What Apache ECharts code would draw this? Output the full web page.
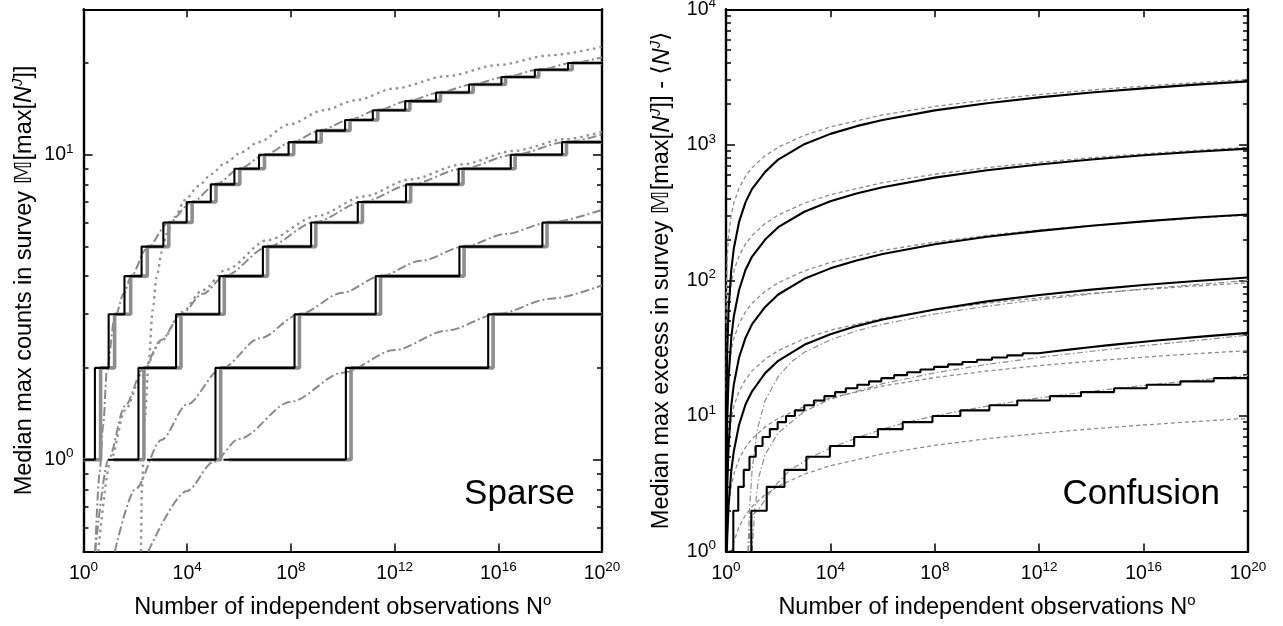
<!DOCTYPE html>
<html>
<head>
<meta charset="utf-8">
<script src="https://cdn.jsdelivr.net/npm/echarts@6/dist/echarts.min.js"></script>
<style>
  html, body { margin: 0; padding: 0; background: #fff; }
  #chart { width: 1283px; height: 626px; }
</style>
</head>
<body>
<div id="chart"></div>
<script>
// x values below are log10(N°)
const xTickExps = [0, 4, 8, 12, 16, 20]
const sparseMajor = [1, 10]
const sparseMinor = [0.6, 0.7, 0.8, 0.9, 2, 3, 4, 5, 6, 7, 8, 9, 20]
const confMajor = [1, 10, 100, 1000, 10000]
const confMinor = [2, 3, 4, 5, 6, 7, 8, 9, 20, 30, 40, 50, 60, 70, 80, 90,
  200, 300, 400, 500, 600, 700, 800, 900, 2000, 3000, 4000, 5000, 6000, 7000, 8000, 9000]

// Sparse panel: staircases (x where the median max climbs to the level in *_y)
const blackA_x = [0, 0.44, 0.97, 1.58, 2.24, 3.08, 3.98, 4.91, 5.82, 6.77, 7.91, 8.98, 10.09, 11.16, 12.41, 13.60, 14.87, 16.12, 17.41, 18.69]
const greyA_x = [0, 0.66, 1.20, 1.82, 2.46, 3.29, 4.19, 5.11, 6.03, 6.98, 8.11, 9.17, 10.28, 11.35, 12.59, 13.77, 15.03, 16.28, 17.56, 18.85]
const stairA_y = [1, 2, 3, 4, 5, 6, 7, 8, 9, 10, 11, 12, 13, 14, 15, 16, 17, 18, 19, 20]
const blackB_x = [0.95, 2.12, 3.57, 5.24, 6.92, 8.78, 10.58, 12.44, 14.47, 16.48, 18.46]
const greyB_x = [1.15, 2.33, 3.76, 5.43, 7.10, 8.96, 10.76, 12.62, 14.64, 16.65, 18.63]
const stairB_y = [1, 2, 3, 4, 5, 6, 7, 8, 9, 10, 11]
const blackC_x = [2.45, 5.09, 8.14, 11.27, 14.50, 17.70]
const greyC_x = [2.65, 5.29, 8.33, 11.46, 14.68, 17.88]
const stairC_y = [1, 2, 3, 4, 5, 6]
const blackD_x = [5.40, 10.12, 15.61]
const greyD_x = [5.60, 10.32, 15.80]
const stairD_y = [1, 2, 3]

// Sparse panel: smooth approximations
const dashDotA_x = [0.45, 0.62, 0.76, 0.9, 1.2, 1.55, 1.84, 2.42, 3.29, 4.19, 5.11, 6.02, 6.98, 8.03, 9.12, 10.22, 11.33, 12.5, 13.73, 14.98, 16.26, 17.55, 18.86, 20]
const dashDotA_y = [0.5, 0.9, 1.3, 1.95, 2.9, 3.5, 4.0, 4.9, 6.0, 7.0, 8.0, 9.0, 10.0, 11.0, 12.0, 13.0, 14.0, 15.0, 16.0, 17.0, 18.0, 19.0, 20.0, 20.9]
const dashDotB_x = [0.45, 0.96, 1.6, 2.32, 3.0, 3.77, 4.6, 5.44, 7.12, 8.9, 10.75, 12.65, 14.6, 16.6, 18.6, 20]
const dashDotB_y = [0.5, 1.0, 1.5, 2.0, 2.47, 3.0, 3.5, 4.0, 5.0, 6.0, 7.0, 8.0, 9.0, 10.0, 11.0, 11.65]
const dashDotC_x = [1.21, 2.0, 3.0, 4.0, 5.29, 6.8, 8.33, 10.0, 11.46, 13.0, 14.68, 16.3, 17.88, 20]
const dashDotC_y = [0.5, 0.8, 1.16, 1.52, 1.98, 2.5, 3.0, 3.53, 4.0, 4.49, 5.0, 5.5, 5.98, 6.6]
const dashDotD_x = [2.5, 4, 5, 6, 8, 10, 12, 14, 16, 18, 20]
const dashDotD_y = [0.5, 0.79, 0.98, 1.17, 1.55, 1.93, 2.29, 2.65, 3.01, 3.37, 3.73]
const dottedA_x = [2.22, 2.25, 2.37, 2.5, 2.67, 2.82, 3.02, 3.21, 3.53, 3.91, 4.43, 4.94, 5.46, 6.1, 6.74, 7.96, 9.25, 10.5, 12, 14, 16, 18, 20]
const dottedA_y = [0.5, 0.8, 1.38, 2.0, 3.1, 3.97, 4.8, 5.5, 6.25, 7.1, 7.9, 8.65, 9.4, 10.2, 11.0, 12.6, 14.0, 15.1, 16.5, 18.1, 19.7, 21.2, 22.6]
const dottedB_x = [0.57, 1.05, 1.6, 2.3, 3.0, 3.8, 4.6, 5.5, 7.1, 9.0, 10.8, 12.6, 14.6, 16.6, 18.6, 20]
const dottedB_y = [0.5, 1.0, 1.45, 1.95, 2.45, 3.05, 3.6, 4.2, 5.25, 6.3, 7.3, 8.3, 9.3, 10.3, 11.25, 11.9]

// Confusion panel: black curves
const conf1_x = [0.002, 0.005, 0.01, 0.02, 0.05, 0.1, 0.2, 0.3, 0.5, 0.75, 1, 1.5, 2, 3, 4, 5, 6, 8, 10, 12, 14, 16, 18, 20]
const conf1_y = [1.26, 3.2, 6.3, 12.8, 31, 61, 118, 172, 270, 378, 474, 632, 779, 1011, 1205, 1374, 1527, 1796, 2030, 2239, 2432, 2612, 2781, 2941]
const conf2_x = [0.005, 0.01, 0.02, 0.05, 0.1, 0.2, 0.3, 0.5, 0.75, 1, 1.5, 2, 3, 4, 5, 6, 8, 10, 12, 14, 16, 18, 20]
const conf2_y = [1.0, 2.0, 4.0, 9.8, 19.3, 37.3, 54.4, 85, 120, 150, 200, 247, 321, 383, 438, 487, 573, 649, 716, 779, 837, 890, 938]
const conf3_x = [0.02, 0.05, 0.1, 0.2, 0.3, 0.5, 0.75, 1, 1.5, 2, 3, 4, 5, 6, 8, 10, 12, 14, 16, 18, 20]
const conf3_y = [1.28, 3.1, 6.1, 11.8, 17.1, 27, 37.8, 47.6, 63.7, 78.7, 102.7, 122.7, 140.4, 156.4, 184.8, 209.7, 232, 252.9, 272.4, 290.8, 306]
const conf4_x = [0.03, 0.05, 0.1, 0.2, 0.3, 0.5, 0.75, 1, 1.5, 2, 3, 4, 5, 6, 8, 10, 12, 14, 16, 18, 20]
const conf4_y = [1.0, 1.3, 2.2, 3.9, 5.5, 8.6, 12.2, 15.2, 20.7, 25.5, 33.5, 40, 46, 51.5, 61, 70, 78, 85.5, 92.5, 99, 105]
const conf5_x = [0.11, 0.28, 0.47, 0.68, 0.90, 1.14, 1.40, 1.68, 1.98, 2.30, 2.64, 3.00, 3.37, 3.77, 4.18, 4.59, 5.03, 5.48, 5.95, 6.44,
  6.94, 7.45, 7.97, 8.51, 9.06, 9.62, 10.19, 10.77, 11.37, 11.97, 12.59, 13.22, 13.85, 14.50, 15.16, 15.82, 16.50, 17.18, 17.87, 18.57, 19.28]
const conf5_y = [1, 2, 3, 4, 5, 6, 7, 8, 9, 10, 11, 12, 13, 14, 15, 16, 17, 18, 19, 20,
  21, 22, 23, 24, 25, 26, 27, 28, 29, 30, 31, 32, 33, 34, 35, 36, 37, 38, 39, 40, 41]
const conf6_x = [0.97, 0.97, 1.56, 2.24, 3.08, 3.98, 4.91, 5.82, 6.77, 7.91, 8.98, 10.09, 11.16, 12.41, 13.60, 14.87, 16.12, 17.41, 18.69]
const conf6_y = [1, 2, 3, 4, 5, 6, 7, 8, 9, 10, 11, 12, 13, 14, 15, 16, 17, 18, 19]

// Confusion panel: grey dashed curves
const dashX = [0.005, 0.01, 0.02, 0.05, 0.1, 0.2, 0.3, 0.5, 0.75, 1, 1.5, 2, 3, 4, 6, 8, 10, 12, 14, 16, 18, 20]
const dash1_y = [48, 67.9, 96, 151.7, 214.6, 303.5, 371.7, 479.8, 587.7, 678.6, 831, 959.7, 1175, 1357, 1662, 1919, 2146, 2351, 2539, 2714, 2879, 3035]
const dash2_y = [15.2, 21.5, 30.3, 48, 67.9, 96, 117.5, 151.7, 185.8, 214.6, 262.8, 303.5, 371.7, 429.2, 525.7, 607, 678.6, 743.4, 803, 858.4, 910.5, 959.7]
const dash3_y = [4.8, 6.8, 9.6, 15.2, 21.5, 30.3, 37.2, 48, 58.8, 67.9, 83.1, 96, 117.5, 135.7, 166.2, 191.9, 214.6, 235.1, 253.9, 271.4, 287.9, 303.5]
const dash4_y = [1.5, 2.15, 3.03, 4.8, 6.8, 9.6, 11.8, 15.2, 18.6, 21.5, 26.3, 30.3, 37.2, 42.9, 52.6, 60.7, 67.9, 74.3, 80.3, 85.8, 91.0, 96.0]
const dash5_x = [0.022, 0.05, 0.1, 0.2, 0.3, 0.5, 0.75, 1, 1.5, 2, 3, 4, 6, 8, 10, 12, 14, 16, 18, 20]
const dash5_y = [1.0, 1.52, 2.15, 3.03, 3.72, 4.8, 5.88, 6.79, 8.31, 9.6, 11.75, 13.57, 16.62, 19.19, 21.46, 23.51, 25.39, 27.14, 28.79, 30.35]
const dash6_x = [0.22, 0.3, 0.5, 0.75, 1, 1.5, 2, 3, 4, 6, 8, 10, 12, 14, 16, 18, 20]
const dash6_y = [1.0, 1.18, 1.52, 1.86, 2.15, 2.63, 3.03, 3.72, 4.29, 5.26, 6.07, 6.79, 7.43, 8.03, 8.58, 9.10, 9.60]

// Confusion panel: grey dash-dot curves
const confDD4_x = [0.84, 0.9, 1.0, 1.2, 1.5, 2.0, 2.5, 3.0, 4.0, 5, 6, 8, 10, 12, 14, 16, 18, 20]
const confDD4_y = [1.0, 2.0, 4.0, 8.0, 13.0, 19.5, 25, 29.5, 36.5, 42.5, 47.5, 56.5, 64.5, 72, 79.5, 86.5, 93, 100]
const confDD5_x = [1.0, 1.1, 1.25, 1.5, 2.0, 3, 4, 6, 8, 10, 12, 14, 16, 18, 20]
const confDD5_y = [1.0, 2.0, 3.5, 5.2, 7.5, 10.8, 13.3, 17.3, 20.8, 24, 27, 30, 33, 36, 39.5]
const confDD6_x = [0.86, 0.92, 1.0, 1.21, 1.84, 2.46, 3.29, 4.19, 5.11, 6.0, 6.95, 7.98, 9.1, 10.2, 11.3, 12.5, 13.75, 15.0, 16.3, 17.6, 18.85, 20]
const confDD6_y = [1.0, 1.5, 1.85, 2.0, 3.0, 4.0, 5.0, 6.0, 7.0, 8.0, 9.0, 10.0, 11, 12, 13, 14, 15, 16, 17, 18, 19, 19.9]

const font = 'Liberation Sans, Arial, DejaVu Sans, sans-serif'
const xTicks = xTickExps.map(e => Math.pow(10, e))

const pts = (xs, ys) => xs.map((e, i) => [Math.pow(10, e), ys[i]])
const stair = (xs, ys) => pts(xs, ys).concat([[1e20, ys[ys.length - 1]]])

const BLACK = { color: '#000', width: 2.1 }
const GREY_STEP = { color: '#8e8e8e', width: 3.6 }
const DASH_DOT = { color: '#8a8a8a', width: 2, type: [9, 3, 2, 3] }
const DOTTED = { color: '#949494', width: 2.4, type: [2.5, 4] }
const DASHED = { color: '#8c8c8c', width: 1.3, type: [4, 3] }
const THIN_DD = { color: '#8c8c8c', width: 1.2, type: [6, 2.5, 1.5, 2.5] }

const line = (data, right, style, extra) => Object.assign({
  type: 'line',
  data,
  xAxisIndex: right ? 2 : 0,
  yAxisIndex: right ? 4 : 0,
  symbol: 'none',
  showSymbol: false,
  silent: true,
  lineStyle: style
}, extra)
const smooth = { smooth: 0.3, smoothMonotone: 'x' }
const plain = { smooth: false }
const step = { step: 'end' }

const supRich = {
  b: { fontSize: 19.5, fontFamily: font, color: '#000' },
  s: { fontSize: 13.5, fontFamily: font, color: '#000', padding: [0, 0, 12, 0] }
}
const powLabel = v => '{b|10}{s|' + Math.round(Math.log10(v)) + '}'

const nameStyle = {
  fontSize: 23.5,
  fontFamily: font,
  color: '#000',
  rich: {
    i: { fontSize: 23.5, fontFamily: font, fontStyle: 'italic', color: '#000' },
    s: { fontSize: 15, fontFamily: font, fontStyle: 'italic', color: '#000', padding: [0, 0, 13, 0] },
    o: { fontSize: 15, fontFamily: font, color: '#000', padding: [0, 0, 13, 0] }
  }
}

function xAxis (gridIndex, position, withLabel) {
  return {
    type: 'log',
    logBase: 10,
    gridIndex,
    position,
    min: 1,
    max: 1e20,
    axisLine: { show: true, onZero: false, lineStyle: { color: '#000', width: 2.2 } },
    axisTick: { show: true, inside: true, length: 8, customValues: xTicks, lineStyle: { color: '#000', width: 1.5 } },
    axisLabel: { show: withLabel, customValues: xTicks, formatter: powLabel, margin: 9, rich: supRich },
    splitLine: { show: false },
    minorTick: { show: false },
    name: withLabel ? 'Number of independent observations N{o|o}' : '',
    nameLocation: 'middle',
    nameGap: 42,
    nameTextStyle: nameStyle
  }
}

function yAxis (gridIndex, position, min, max, ticks, len, labelled, name, gap) {
  return {
    type: 'log',
    logBase: 10,
    gridIndex,
    position,
    min,
    max,
    axisLine: { show: true, onZero: false, lineStyle: { color: '#000', width: 2.2 } },
    axisTick: { show: true, inside: true, length: len, customValues: ticks, lineStyle: { color: '#000', width: 1.5 } },
    axisLabel: { show: labelled, customValues: ticks, formatter: powLabel, margin: 10, rich: supRich },
    splitLine: { show: false },
    minorTick: { show: false },
    name: name || '',
    nameLocation: 'middle',
    nameGap: gap || 0,
    nameTextStyle: nameStyle
  }
}

const sparseName = 'Median max counts in survey \u{1D544}[max[{i|N}{s|J}]]'
const confName = 'Median max excess in survey \u{1D544}[max[{i|N}{s|J}]] - \u27E8{i|N}{s|J}\u27E9'

const option = {
  animation: false,
  backgroundColor: '#fff',
  textStyle: { fontFamily: font },
  grid: [
    { left: 83.5, right: 681, top: 9.3, bottom: 74.5, outerBoundsMode: 'none' },
    { left: 726, right: 35, top: 9.3, bottom: 74.5, outerBoundsMode: 'none' }
  ],
  xAxis: [
    xAxis(0, 'bottom', true),
    xAxis(0, 'top', false),
    xAxis(1, 'bottom', true),
    xAxis(1, 'top', false)
  ],
  yAxis: [
    yAxis(0, 'left', 0.5, 30, sparseMajor, 9, true, sparseName, 45),
    yAxis(0, 'left', 0.5, 30, sparseMinor, 5, false),
    yAxis(0, 'right', 0.5, 30, sparseMajor, 9, false),
    yAxis(0, 'right', 0.5, 30, sparseMinor, 5, false),
    yAxis(1, 'left', 1, 10000, confMajor, 9, true, confName, 50),
    yAxis(1, 'left', 1, 10000, confMinor, 5, false),
    yAxis(1, 'right', 1, 10000, confMajor, 9, false),
    yAxis(1, 'right', 1, 10000, confMinor, 5, false)
  ],
  graphic: [
    { type: 'text', right: 708, top: 477, style: { text: 'Sparse', font: '35px ' + font, fill: '#000' } },
    { type: 'text', right: 63, top: 477, style: { text: 'Confusion', font: '35px ' + font, fill: '#000' } }
  ],
  series: [
    // sparse panel
    line(pts(dashDotA_x, dashDotA_y), false, DASH_DOT, smooth),
    line(pts(dashDotB_x, dashDotB_y), false, DASH_DOT, smooth),
    line(pts(dashDotC_x, dashDotC_y), false, DASH_DOT, smooth),
    line(pts(dashDotD_x, dashDotD_y), false, DASH_DOT, smooth),
    line(pts(dottedA_x, dottedA_y), false, DOTTED, smooth),
    line(pts(dottedB_x, dottedB_y), false, DOTTED, smooth),
    line(stair(greyA_x, stairA_y), false, GREY_STEP, step),
    line(stair(greyB_x, stairB_y), false, GREY_STEP, step),
    line(stair(greyC_x, stairC_y), false, GREY_STEP, step),
    line(stair(greyD_x, stairD_y), false, GREY_STEP, step),
    line(stair(blackA_x, stairA_y), false, BLACK, step),
    line(stair(blackB_x, stairB_y), false, BLACK, step),
    line(stair(blackC_x, stairC_y), false, BLACK, step),
    line(stair(blackD_x, stairD_y), false, BLACK, step),
    // confusion panel
    line(pts(dashX, dash1_y), true, DASHED, plain),
    line(pts(dashX, dash2_y), true, DASHED, plain),
    line(pts(dashX, dash3_y), true, DASHED, plain),
    line(pts(dashX, dash4_y), true, DASHED, plain),
    line(pts(dash5_x, dash5_y), true, DASHED, plain),
    line(pts(dash6_x, dash6_y), true, DASHED, plain),
    line(pts(confDD4_x, confDD4_y), true, THIN_DD, plain),
    line(pts(confDD5_x, confDD5_y), true, THIN_DD, plain),
    line(pts(confDD6_x, confDD6_y), true, THIN_DD, plain),
    line(pts(conf1_x, conf1_y), true, BLACK, plain),
    line(pts(conf2_x, conf2_y), true, BLACK, plain),
    line(pts(conf3_x, conf3_y), true, BLACK, plain),
    line(pts(conf4_x, conf4_y), true, BLACK, plain),
    line(stair(conf5_x, conf5_y), true, BLACK, step),
    line(stair(conf6_x, conf6_y), true, BLACK, step)
  ]
}

const chart = echarts.init(document.getElementById('chart'), null, { renderer: 'canvas' })
chart.setOption(option)
</script>
</body>
</html>
